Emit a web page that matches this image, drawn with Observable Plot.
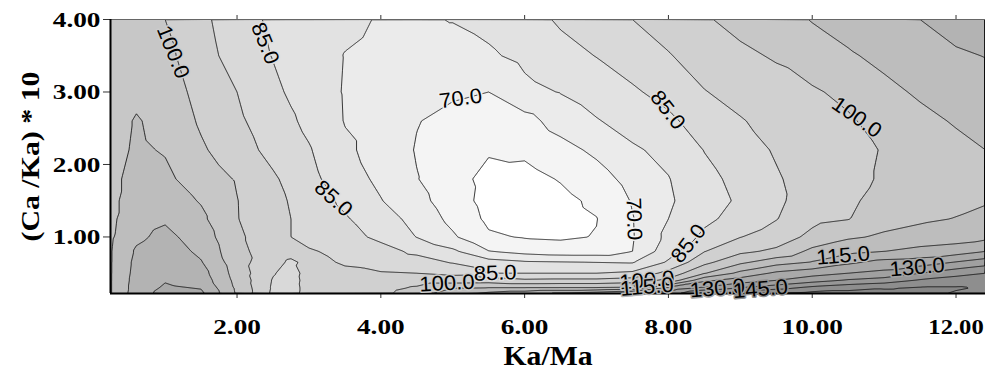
<!DOCTYPE html>
<html><head><meta charset="utf-8">
<script src="https://cdn.jsdelivr.net/npm/d3@7"></script>
<script src="https://cdn.jsdelivr.net/npm/@observablehq/plot@0.6"></script>
<style>body{margin:0;background:#fff;} svg{display:block;}</style>
</head><body><div id="chart"></div>
<script>
// Grid columns (Ka/Ma) and rows ((Ca/Ka)*10)
const xCols = [0.24, 0.6, 1.0, 1.5, 2.0, 2.5, 2.75, 3.0, 3.5, 4.0, 4.5, 5.0, 5.5, 6.0, 6.5, 7.0, 7.5, 8.0, 8.5, 9.0, 9.5, 10.0, 10.5, 11.0, 11.5, 12.0, 12.41];
const yRows = [0.22, 0.3, 0.4, 0.5, 0.65, 0.8, 1.0, 1.25, 1.5, 1.8, 2.2, 2.6, 3.0, 3.5, 4.0];
// values, one list per column, bottom to top
const valuesByColumn = [
  [107, 107, 107, 107, 107, 107, 106.5, 106, 106, 106, 105, 105, 104, 104, 103],
  [119, 118.5, 118, 117.5, 117, 116, 113.5, 112, 110.5, 109.5, 108.5, 108, 106, 104, 103],
  [125, 123.5, 122, 121, 120, 119, 117, 114, 111, 109, 107, 105.5, 104, 102, 100],
  [124, 122, 119.5, 118, 115.5, 113.5, 111.5, 109, 107, 104, 101, 99, 97.5, 95.5, 94.3],
  [106.5, 106, 105.2, 104.3, 103.3, 102.4, 101.4, 100.3, 100.2, 99.4, 95.8, 93.8, 92.5, 89.4, 88.1],
  [91, 91.5, 92, 93, 94.5, 95.5, 95.5, 94.8, 94.4, 93.5, 90.3, 88.6, 86.6, 84.7, 83.7],
  [89, 89, 89.5, 90, 91.5, 94.5, 92.5, 92.5, 92, 90.5, 88, 86, 84, 83, 81.5],
  [96.5, 96, 95.5, 95, 94, 93, 90.9, 90, 89, 87.2, 85.6, 83.2, 81.8, 81, 81.4],
  [96, 95.5, 94.5, 93.5, 92, 91.2, 87.6, 85.7, 83.5, 80.8, 78.7, 77.2, 77.0, 77.3, 79],
  [98, 97, 95, 93, 89.5, 87.6, 83.4, 80.9, 77.8, 76, 75, 75, 75.5, 76, 77],
  [104, 101, 96, 92.5, 88, 83.5, 77.3, 75, 72.5, 70.3, 69.5, 70.3, 72, 74.5, 76.5],
  [112, 107, 96, 91, 84.5, 79, 71, 68, 66, 65, 66, 68, 71, 74.5, 77.8],
  [117, 107.5, 96.5, 85, 80.5, 70.3, 63.5, 61, 60, 60.5, 63.2, 66, 70, 76.5, 79.5],
  [120, 107.5, 94, 85, 78.5, 67.5, 62, 59.5, 58.5, 60, 64, 67.5, 75.5, 79.3, 82],
  [124, 107.5, 94.5, 85, 78, 66, 61.5, 60, 60.5, 63, 67.5, 73, 77.8, 82.5, 86],
  [127, 107.5, 94.5, 85, 77.5, 66, 62.8, 62.3, 64, 67, 71.5, 77, 81, 85.2, 89.5],
  [131, 108.5, 96, 86.5, 77, 70, 69.5, 69.7, 70.5, 72.5, 76.5, 80.5, 84, 88.5, 92.5],
  [133, 124, 102, 95, 86, 82, 79.5, 77.5, 76.5, 77.2, 79.5, 83.5, 87.5, 92, 96],
  [147, 131, 121, 107, 98, 92.3, 86.5, 83.5, 82, 83, 85.2, 88.5, 92.2, 96, 99.5],
  [150, 137.5, 126, 117, 106, 98.5, 92.3, 87.5, 86, 87, 89, 92, 95, 99, 101.5],
  [153, 142, 130, 124, 112, 101.5, 96, 92.2, 91, 91.7, 93.3, 95, 98, 100.5, 105],
  [155, 147, 134.5, 127, 115.5, 109.5, 102, 98, 96.5, 96, 96.5, 97.5, 99, 104.5, 107.8],
  [155, 150, 138.5, 130, 121, 113, 106.5, 99.7, 98.5, 97.5, 97.5, 99, 102, 106.8, 110],
  [154, 152, 141, 132, 125, 115, 108.5, 105, 103, 101, 100.5, 103, 106, 109, 112.5],
  [154, 153, 146, 137.5, 126, 117.5, 110, 106.5, 104.5, 103.5, 104, 106, 108.3, 112.5, 115],
  [152, 153, 149, 142, 130.5, 119, 111.5, 107.7, 106, 105.5, 106, 108, 111, 114, 118],
  [151, 152, 150, 145, 134, 122.5, 113, 109, 107, 105.5, 107.5, 109.5, 112, 115.2, 120]
];
const levels = [62.5, 70, 77.5, 85, 92.5, 100, 107.5, 115, 122.5, 130, 137.5, 145, 152.5];
const bandColors = ["#ffffff", "#f4f4f4", "#ebebeb", "#e2e2e2", "#d9d9d9", "#d0d0d0", "#c7c7c7", "#bdbdbd", "#b3b3b3", "#a9a9a9", "#a0a0a0", "#979797", "#8e8e8e", "#868686"];
const xTicks = [2, 4, 6, 8, 10, 12];
const yTicks = [1, 2, 3, 4];
const xDomain = [0.24, 12.41];
const yDomain = [0.22, 4.0];
const xTitle = "Ka/Ma";
const yTitle = "(Ca /Ka) * 10";
// contour labels
const labelText  = ["100.0", "85.0", "85.0", "70.0", "70.0", "85.0", "85.0", "100.0", "115.0", "130.0", "100.0", "85.0", "100.0", "115.0", "130.0", "145.0"];
const labelLevel = [100, 85, 85, 70, 70, 85, 85, 100, 115, 130, 100, 85, 100, 115, 130, 145];
const labelX     = [1.11, 2.39, 3.34, 5.11, 7.52, 7.99, 8.28, 10.62, 10.43, 11.46, 4.92, 5.59, 7.70, 7.70, 8.68, 9.28];
const labelY     = [3.55, 3.67, 1.53, 2.91, 1.25, 2.75, 0.91, 2.65, 0.74, 0.58, 0.36, 0.50, 0.40, 0.31, 0.29, 0.28];
const labelAngle = [68, 68, 42, -8, 88, 52, -52, 35, -5, -5, -3, -2, -5, -5, -5, -5];

const points = [];
xCols.forEach((x, i) => yRows.forEach((y, j) => points.push({x, y, v: valuesByColumn[i][j]})));

const thresholds = [0, ...levels];
const ext = {x1: xDomain[0] - 0.3, x2: xDomain[1] + 0.3, y1: yDomain[0] - 0.1, y2: yDomain[1] + 0.1};
const haloFor = L => { const i = levels.indexOf(L); return d3.interpolateRgb(bandColors[i], bandColors[i + 1])(0.5); };

const labelMarks = labelText.map((t, i) => Plot.text([i], {
  x: () => labelX[i], y: () => labelY[i], text: () => t, rotate: labelAngle[i],
  fontFamily: "Liberation Sans", fontWeight: "normal", fontSize: 21,
  fill: "black", stroke: haloFor(labelLevel[i]), strokeWidth: 3, paintOrder: "stroke"
}));

const fmt = d3.format(".2f");
const chart = Plot.plot({
  width: 985, height: 385,
  marginLeft: 110, marginRight: 0, marginTop: 19, marginBottom: 92,
  style: {fontFamily: "Liberation Serif", fontWeight: "bold", fontSize: "22px", color: "black", background: "white"},
  x: {domain: xDomain},
  y: {domain: yDomain},
  color: {type: "ordinal", domain: thresholds, range: bandColors},
  marks: [
    Plot.contour(points, {x: "x", y: "y", value: "v", fill: "value", thresholds, interpolate: "barycentric", pixelSize: 1, ...ext, clip: true}),
    Plot.contour(points, {x: "x", y: "y", value: "v", thresholds: levels, stroke: "black", strokeWidth: 0.8, fill: "none", interpolate: "barycentric", pixelSize: 1, ...ext, clip: true}),
    Plot.axisX(xTicks, {anchor: "bottom", tickSize: 5, tickPadding: 20, tickFormat: fmt, label: null, stroke: "#333"}),
    Plot.axisX(xTicks, {anchor: "top", tickSize: 5, tickFormat: () => "", label: null, stroke: "#333"}),
    Plot.axisY(yTicks, {anchor: "left", tickSize: 7, tickPadding: 3, tickFormat: fmt, label: null, stroke: "#333"}),
    Plot.ruleY([yDomain[1]], {stroke: "#666", strokeWidth: 1}),
    Plot.ruleX([xDomain[0]], {stroke: "black", strokeWidth: 2}),
    Plot.ruleY([yDomain[0]], {stroke: "black", strokeWidth: 2}),
    ...labelMarks,
    Plot.text([xTitle], {frameAnchor: "bottom", dy: 63, fontSize: 27, lineAnchor: "middle", textAnchor: "middle"}),
    Plot.text([yTitle], {frameAnchor: "left", dx: -80, rotate: -90, fontSize: 26, lineAnchor: "middle", textAnchor: "middle"})
  ]
});
document.getElementById("chart").appendChild(chart);

// widen glyphs along their reading direction, as in the reference
function stretch(el, s) {
  let tr = el.getAttribute("transform");
  if (!tr) {
    const x = +el.getAttribute("x") || 0, y = +el.getAttribute("y") || 0;
    el.removeAttribute("x"); el.removeAttribute("y");
    tr = `translate(${x},${y})`;
  }
  el.setAttribute("transform", tr + ` scale(${s},1)`);
}
chart.querySelectorAll('g[aria-label="x-axis tick label"] text, g[aria-label="y-axis tick label"] text').forEach(t => {
  // the last x label sits at the right edge: keep it fully inside
  stretch(t, t.textContent === fmt(xTicks[xTicks.length - 1]) ? 1.12 : 1.24);
});
chart.querySelectorAll('g[aria-label="text"] text').forEach(t => {
  const s = t.textContent;
  if (s === xTitle) stretch(t, 1.1);
  else if (s === yTitle) stretch(t, 1.15);
  else stretch(t, 1.05);
});
</script>
</body></html>
